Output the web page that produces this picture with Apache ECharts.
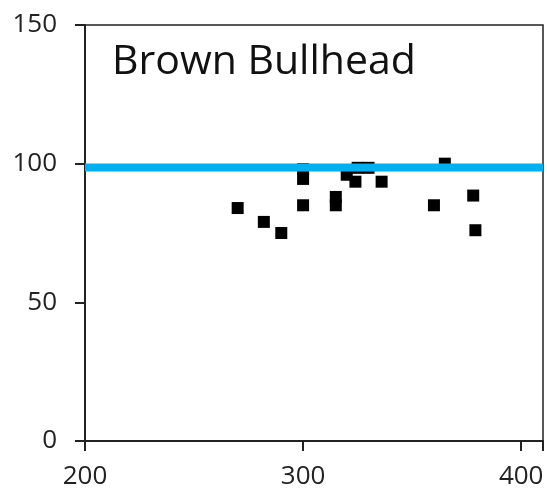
<!DOCTYPE html>
<html>
<head>
<meta charset="utf-8">
<script src="https://cdn.jsdelivr.net/npm/echarts@6/dist/echarts.min.js"></script>
<style>html,body{margin:0;padding:0;background:#fff}#c{width:547px;height:492px}</style>
</head>
<body>
<div id="c"></div>
<script>
const title = 'Brown Bullhead';
const xValues = [270, 282, 290, 300, 300, 300, 315, 315, 320, 324, 325, 330, 336, 360, 365, 378, 379];
const yValues = [84, 79, 75, 85, 94.5, 98, 88, 85, 96, 93.5, 98.5, 98.5, 93.5, 85, 100, 88.5, 76];
const refValue = 98.6;
const refRange = [200, 410];
const xTicks = [200, 300, 400];
const yTicks = [0, 50, 100, 150];

const points = xValues.map((x, i) => [x, yValues[i]]);
const chart = echarts.init(document.getElementById('c'));
const font = 'Open Sans, Liberation Sans, sans-serif';
chart.setOption({
  animation: false,
  title: {
    text: title, left: 107, top: 37,
    textStyle: {fontFamily: font, fontSize: 41, fontWeight: 'normal', color: '#111'}
  },
  grid: {left: 85, right: 4, top: 25, bottom: 51, show: true, borderColor: '#222', borderWidth: 1.5},
  xAxis: {
    type: 'value', min: 200, max: 410, interval: 100,
    splitLine: {show: false},
    axisLine: {onZero: false, lineStyle: {color: '#222', width: 2}},
    axisTick: {length: 10, lineStyle: {color: '#222', width: 2}},
    axisLabel: {
      fontFamily: font, fontSize: 26, color: '#222', margin: 23,
      formatter: v => xTicks.includes(v) ? String(v) : ''
    }
  },
  yAxis: {
    type: 'value', min: 0, max: 150, interval: 50,
    splitLine: {show: false},
    axisLine: {onZero: false, lineStyle: {color: '#222', width: 2}},
    axisTick: {length: 10, lineStyle: {color: '#222', width: 2}},
    axisLabel: {
      fontFamily: font, fontSize: 26, color: '#222', margin: 28,
      formatter: v => yTicks.includes(v) ? String(v) : ''
    }
  },
  series: [
    {
      type: 'scatter', data: points, symbol: 'rect', symbolSize: 12,
      itemStyle: {color: '#000', opacity: 1}, z: 2
    },
    {
      type: 'line', data: [[refRange[0], refValue], [refRange[1], refValue]],
      symbol: 'none', lineStyle: {color: '#00b0f0', width: 8}, z: 3
    }
  ]
});
</script>
</body>
</html>
